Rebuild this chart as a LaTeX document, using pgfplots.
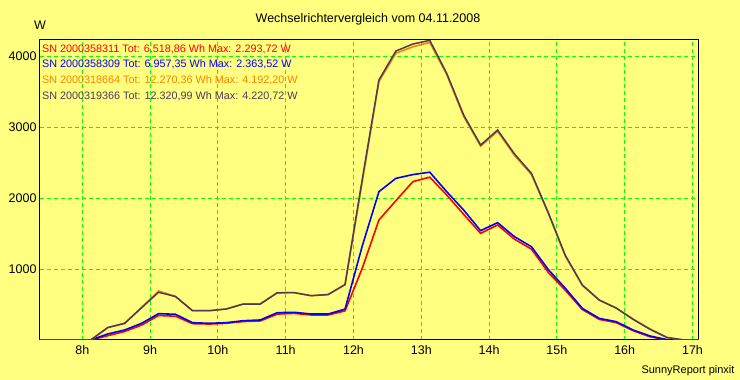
\documentclass[border=0pt]{standalone}
\usepackage{pgfplots}
\pgfplotsset{compat=1.18}
\usepackage{pgfplotstable}
\usepackage{fontspec}
\setmainfont{Liberation Sans}
\definecolor{bg}{RGB}{255,255,128}
\definecolor{gridg}{RGB}{0,255,0}
\definecolor{myorange}{RGB}{255,128,0}
\definecolor{mydark}{RGB}{75,58,88}
\pgfplotstableread{
t      dark  orange blue  red
7.375  0     0      0     0
8.125  0     0      0     0
8.375  175   175    85    60
8.625  235   235    141   120
8.875  455   460    235   210
9.125  672   690    371   345
9.375  612   615    362   335
9.625  413   413    244   230
9.875  413   413    235   225
10.125 437   437    244   235
10.375 507   507    272   260
10.625 507   507    282   268
10.875 665   665    385   365
11.125 667   667    390   375
11.375 624   624    366   352
11.625 640   640    366   352
11.875 780   780    435   410
12.125 2240  2200   1310  1000
12.375 3662  3640   2089  1690
12.625 4070  4040   2277  1962
12.875 4169  4130   2330  2230
13.125 4221  4192   2364  2294
13.375 3756  3740   2089  2042
13.625 3169  3150   1831  1770
13.875 2746  2730   1540  1502
14.125 2958  2940   1653  1620
14.375 2620  2600   1455  1420
14.625 2347  2330   1314  1280
14.875 1790  1780   990   950
15.125 1190  1180   728   700
15.375 775   770    446   430
15.625 563   560    305   290
15.875 450   450    258   245
16.125 290   295    141   130
16.375 150   155    56    45
16.625 35    35     5     0
16.875 0     0      0     0
17.100 0     0      0     0
}\datatable
\begin{document}
\begin{tikzpicture}[x=1pt,y=1pt]
\fill[bg] (0,0) rectangle (740,380);
\useasboundingbox (0,0) rectangle (740,380);
\begin{axis}[
  at={(40pt,40pt)}, anchor=south west,
  scale only axis, width=659pt, height=300pt,
  xmin=7.376, xmax=17.096, ymin=0, ymax=4226,
  axis line style={black, line width=1pt},
  xtick={8,9,10,11,12,13,14,15,16,17},
  xticklabels={8h,9h,10h,11h,12h,13h,14h,15h,16h,17h},
  ytick={1000,2000,3000,4000},
  grid=major,
  major grid style={gridg, dash pattern=on 4pt off 3pt, line width=1pt},
  major tick length=0pt,
  tick label style={font=\fontsize{12.5}{14}\selectfont},
  /pgf/number format/assume math mode=true,
  /pgf/number format/1000 sep={},
  xticklabel style={yshift=-2pt},
  axis background/.style={fill=bg},
]
\addplot[red, line width=1.6pt] table[x=t, y=red] {\datatable};
\addplot[blue, line width=1.6pt] table[x=t, y=blue] {\datatable};
\addplot[myorange, line width=1.6pt] table[x=t, y=orange] {\datatable};
\addplot[mydark, line width=1.5pt] table[x=t, y=dark] {\datatable};
\end{axis}
\node[font=\fontsize{12.5}{14}\selectfont] at (368,361) {Wechselrichtervergleich vom 04.11.2008};
\node[font=\fontsize{12.5}{14}\selectfont] at (40,355) {W};
\node[anchor=east, font=\fontsize{11}{13}\selectfont] at (738,9) {SunnyReport pinxit};
\begin{scope}[every node/.style={anchor=west, inner sep=0pt, font=\fontsize{10.8}{13}\selectfont}]
\node[text=red] at (42,331) {SN 2000358311 Tot: 6.518,86 Wh Max: 2.293,72 W};
\node[text=blue] at (42,316) {SN 2000358309 Tot: 6.957,35 Wh Max: 2.363,52 W};
\node[text=myorange] at (42,300) {SN 2000318664 Tot: 12.270,36 Wh Max: 4.192,20 W};
\node[text=mydark] at (42,284) {SN 2000319366 Tot: 12.320,99 Wh Max: 4.220,72 W};
\end{scope}
\end{tikzpicture}
\end{document}
